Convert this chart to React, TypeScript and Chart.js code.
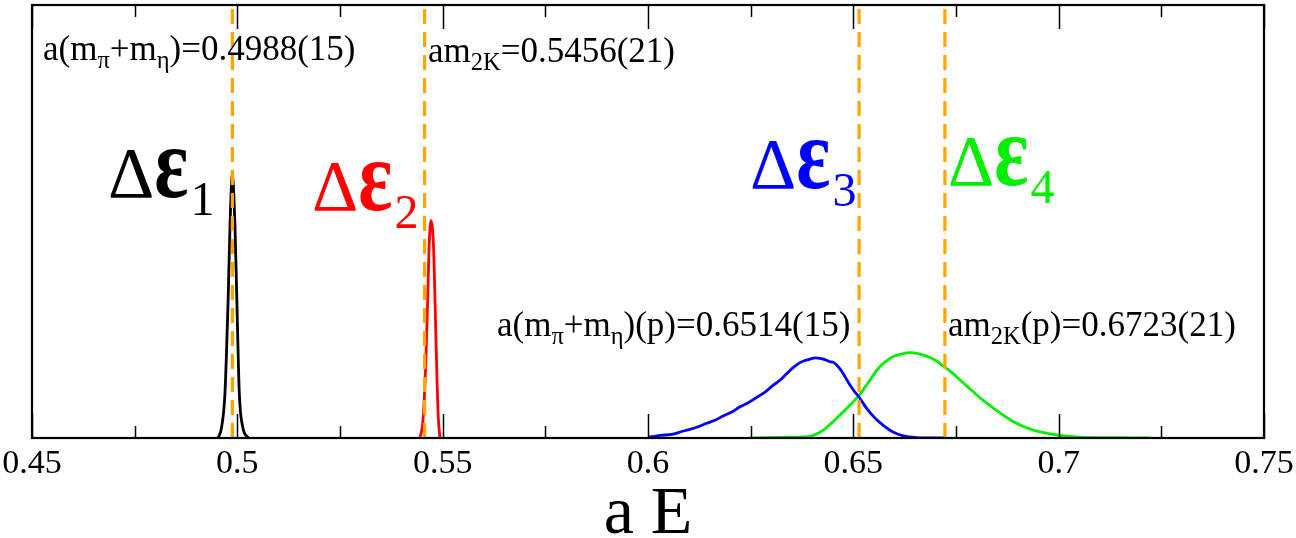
import React, { useEffect, useRef } from "react";
import { Chart, registerables } from "chart.js";

Chart.register(...registerables);

// Energy levels (a E) sampled along each distribution, with their relative weights
const e1Energy = [0.49536, 0.49619, 0.49699, 0.4978, 0.49821, 0.49877, 0.49943, 0.49984, 0.50048, 0.5013, 0.50267];
const e1Weight = [0, 0.026, 0.104, 0.334, 0.488, 0.607, 0.488, 0.334, 0.104, 0.026, 0];

const e2Energy = [0.54447, 0.5452, 0.54586, 0.54635, 0.54667, 0.54715, 0.54781, 0.54813, 0.54854, 0.54893, 0.54934];
const e2Weight = [0, 0.04, 0.165, 0.319, 0.434, 0.502, 0.434, 0.319, 0.165, 0.049, 0];

const e3Energy = [0.6001, 0.6031, 0.6061, 0.6082, 0.6102, 0.6122, 0.6143, 0.6163, 0.6183, 0.6204, 0.6224, 0.6245, 0.6265, 0.6285, 0.6305, 0.6322, 0.6338, 0.6354, 0.637, 0.6382, 0.6394, 0.6407, 0.6419, 0.6431, 0.6443, 0.6451, 0.6459, 0.6467, 0.6475, 0.6485, 0.6495, 0.6503, 0.6512, 0.6522, 0.6532, 0.6545, 0.6557, 0.6573, 0.6589, 0.6606, 0.6622, 0.6654, 0.669, 0.6727];
const e3Weight = [0.002, 0.006, 0.009, 0.015, 0.02, 0.026, 0.034, 0.041, 0.051, 0.06, 0.072, 0.082, 0.094, 0.106, 0.122, 0.134, 0.149, 0.163, 0.174, 0.179, 0.182, 0.185, 0.184, 0.181, 0.176, 0.175, 0.169, 0.16, 0.149, 0.133, 0.118, 0.107, 0.097, 0.083, 0.069, 0.054, 0.042, 0.029, 0.018, 0.01, 0.005, 0.001, 0, 0];

const e4Energy = [0.6256, 0.6346, 0.6394, 0.641, 0.6427, 0.6443, 0.6459, 0.6475, 0.6492, 0.6504, 0.6516, 0.6529, 0.6541, 0.6553, 0.6565, 0.6581, 0.6597, 0.6618, 0.6638, 0.6658, 0.6678, 0.6699, 0.6719, 0.674, 0.676, 0.678, 0.68, 0.682, 0.6841, 0.6865, 0.6889, 0.6913, 0.6938, 0.6966, 0.6995, 0.7035, 0.7076, 0.715, 0.7222];
const e4Weight = [0, 0.002, 0.004, 0.009, 0.018, 0.031, 0.045, 0.06, 0.076, 0.088, 0.1, 0.118, 0.134, 0.151, 0.165, 0.178, 0.188, 0.194, 0.197, 0.195, 0.189, 0.18, 0.166, 0.151, 0.134, 0.117, 0.1, 0.084, 0.069, 0.053, 0.038, 0.027, 0.018, 0.012, 0.007, 0.003, 0.001, 0.001, 0];

// Two-particle thresholds
const thresholds = [0.4988, 0.5456, 0.6514, 0.6723];

const xTickValues = [0.45, 0.5, 0.55, 0.6, 0.65, 0.7, 0.75];
const xTickLabels = ["0.45", "0.5", "0.55", "0.6", "0.65", "0.7", "0.75"];
const xMinorTicks = [0.475, 0.525, 0.575, 0.625, 0.675, 0.725];

const SERIF = '"Liberation Serif", "Times New Roman", serif';

type Part = { t: string; sub?: boolean };

function drawRich(ctx: CanvasRenderingContext2D, x: number, y: number, parts: Part[], size: number, color: string) {
  let cx = x;
  ctx.fillStyle = color;
  ctx.textBaseline = "alphabetic";
  ctx.textAlign = "left";
  for (const p of parts) {
    const fs = p.sub ? size * 0.7 : size;
    ctx.font = `${fs}px ${SERIF}`;
    ctx.fillText(p.t, cx, p.sub ? y + size * 0.22 : y);
    cx += ctx.measureText(p.t).width;
  }
}

function drawLevel(ctx: CanvasRenderingContext2D, x: number, y: number, idx: string, color: string) {
  ctx.fillStyle = color;
  ctx.textBaseline = "alphabetic";
  ctx.textAlign = "left";
  let cx = x;
  ctx.font = `72px ${SERIF}`;
  ctx.fillText("Δ", cx, y);
  cx += ctx.measureText("Δ").width;
  // tall bold epsilon
  ctx.font = `bold 80px ${SERIF}`;
  ctx.save();
  ctx.translate(cx, y);
  ctx.scale(1, 1.28);
  ctx.fillText("ε", 0, 0);
  ctx.restore();
  cx += ctx.measureText("ε").width + 2;
  ctx.font = `48px ${SERIF}`;
  ctx.fillText(idx, cx, y + 18);
}

const framePlugin = {
  id: "frameAndNotes",
  afterDatasetsDraw(chart: any) {
    const { ctx, chartArea } = chart;
    const xs = chart.scales.x;
    const { left, right, top, bottom } = chartArea;
    ctx.save();
    ctx.strokeStyle = "#000";
    ctx.lineWidth = 1.5;
    ctx.beginPath();
    for (const v of xTickValues) {
      const px = Math.round(xs.getPixelForValue(v)) + 0.5;
      ctx.moveTo(px, bottom);
      ctx.lineTo(px, bottom - 24);
      ctx.moveTo(px, top);
      ctx.lineTo(px, top + 24);
    }
    for (const v of xMinorTicks) {
      const px = Math.round(xs.getPixelForValue(v)) + 0.5;
      ctx.moveTo(px, bottom);
      ctx.lineTo(px, bottom - 12);
      ctx.moveTo(px, top);
      ctx.lineTo(px, top + 12);
    }
    ctx.stroke();
    ctx.lineWidth = 2.2;
    ctx.strokeRect(left, top, right - left, bottom - top);

    // threshold annotations
    drawRich(ctx, left + 11, top + 55, [{ t: "a(m" }, { t: "π", sub: true }, { t: "+m" }, { t: "η", sub: true }, { t: ")=0.4988(15)" }], 35, "#000");
    drawRich(ctx, left + 396, top + 57, [{ t: "am" }, { t: "2K", sub: true }, { t: "=0.5456(21)" }], 35, "#000");
    drawRich(ctx, left + 465, top + 331, [{ t: "a(m" }, { t: "π", sub: true }, { t: "+m" }, { t: "η", sub: true }, { t: ")(p)=0.6514(15)" }], 35, "#000");
    drawRich(ctx, left + 916, top + 331, [{ t: "am" }, { t: "2K", sub: true }, { t: "(p)=0.6723(21)" }], 35, "#000");

    // level labels
    drawLevel(ctx, left + 76, top + 192, "1", "#000");
    drawLevel(ctx, left + 280, top + 205, "2", "#ff0000");
    drawLevel(ctx, left + 718, top + 183, "3", "#0000ff");
    drawLevel(ctx, left + 916, top + 180, "4", "#00ee00");

    // axis title
    ctx.fillStyle = "#000";
    ctx.font = `68px ${SERIF}`;
    ctx.textAlign = "center";
    ctx.textBaseline = "alphabetic";
    ctx.fillText("a E", (left + right) / 2, 533);
    ctx.restore();
  },
};

function curve(xs: number[], ys: number[], color: string) {
  return {
    data: xs.map((x, i) => ({ x, y: ys[i] })),
    borderColor: color,
    borderWidth: 2.8,
    pointRadius: 0,
    fill: false,
    cubicInterpolationMode: "monotone" as const,
    order: 1,
  };
}

export default function App() {
  const ref = useRef<HTMLCanvasElement>(null);
  useEffect(() => {
    if (!ref.current) return;
    const datasets: any[] = [
      ...thresholds.map((v) => ({
        data: [
          { x: v, y: 0 },
          { x: v, y: 1 },
        ],
        borderColor: "#ffa500",
        borderWidth: 3.2,
        borderDash: [15, 8],
        pointRadius: 0,
        fill: false,
        order: 0,
      })),
      curve(e1Energy, e1Weight, "#000000"),
      curve(e2Energy, e2Weight, "#ff0000"),
      curve(e3Energy, e3Weight, "#0000ff"),
      curve(e4Energy, e4Weight, "#00ee00"),
    ];
    const chart = new Chart(ref.current, {
      type: "line",
      data: { datasets },
      options: {
        animation: false,
        responsive: false,
        devicePixelRatio: 1,
        layout: { padding: { left: 32, right: 32, top: 5, bottom: 0 } },
        plugins: { legend: { display: false }, tooltip: { enabled: false } },
        scales: {
          x: {
            type: "linear",
            min: 0.45,
            max: 0.75,
            afterBuildTicks: (s: any) => {
              s.ticks = xTickValues.map((value) => ({ value }));
            },
            afterFit: (s: any) => {
              s.height = 100;
              s.paddingLeft = 0;
              s.paddingRight = 0;
            },
            ticks: {
              autoSkip: false,
              maxRotation: 0,
              padding: 6,
              color: "#000",
              font: { family: SERIF, size: 34 },
              callback: (_v: any, i: number) => xTickLabels[i],
            },
            grid: { display: false, drawTicks: false },
            border: { display: false },
          },
          y: { display: false, min: 0, max: 1 },
        },
      },
      plugins: [framePlugin],
    });
    return () => chart.destroy();
  }, []);
  return (
    <div style={{ position: "absolute", left: 0, top: 0, width: 1296, height: 538, background: "#fff" }}>
      <canvas ref={ref} width={1296} height={538} />
    </div>
  );
}
